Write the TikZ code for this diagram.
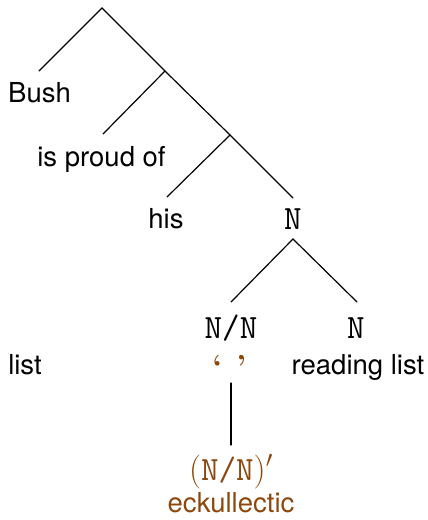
\RequirePackage{fix-cm}
\documentclass[tikz,border=0pt]{standalone}
\usepackage{fontspec}
\setsansfont{TeX Gyre Heros}
\definecolor{brn}{RGB}{140,72,12}
\tikzset{
  lbl/.style={font=\sffamily\fontsize{27.5}{32}\selectfont, inner sep=0pt, anchor=base},
  cat/.style={font=\ttfamily\fontsize{34}{40}\selectfont, inner sep=0pt, anchor=base},
  edge/.style={line width=1.2pt, line cap=round}
}
\begin{document}
\begin{tikzpicture}[x=1pt,y=-1pt]
\useasboundingbox (0,0) rectangle (428,520);
% junctions and line ends
\coordinate (r) at (102,8);
\coordinate (j1) at (165,71);
\coordinate (j2) at (230,135);
\coordinate (bushtop) at (39,71);
\coordinate (proudtop) at (103,134);
\coordinate (histop) at (167,197);
\coordinate (ntop) at (293,198);
\coordinate (nbot) at (293,239);
\coordinate (nntop) at (231,302);
\coordinate (n2top) at (357,302);
\coordinate (qbot) at (231,383);
\coordinate (ptop) at (231,445);
% texts
\node[lbl] (bush) at (39.5,102) {Bush};
\node[lbl] (proud) at (101.5,166) {is proud of};
\node[lbl] (his) at (166,228) {his};
\node[cat] (n) at (293,229) {N};
\node[cat] (nn) at (231,338) {N/N};
\node[cat] (n2) at (356,338) {N};
\node[lbl] (list) at (25,374) {list};
\node[inner sep=0pt, anchor=base, text=brn, font=\bfseries\rmfamily\fontsize{32}{40}\selectfont] (q) at (229.5,377) {‘\hspace{14pt}’};
\node[lbl] (rl) at (358,374) {reading list};
\node[font=\rmfamily\fontsize{34}{40}\selectfont, inner sep=0pt, anchor=base, text=brn] (nnp) at (231,480) {(\texttt{N/N})$'$};
\node[lbl,text=brn] (eck) at (231,512) {eckullectic};
% edges
\draw[edge] (bushtop) -- (r) -- (j1) -- (j2) -- (ntop);
\draw[edge] (j1) -- (proudtop);
\draw[edge] (j2) -- (histop);
\draw[edge] (nntop) -- (nbot) -- (n2top);
\draw[edge] (qbot) -- (ptop);
\end{tikzpicture}
\end{document}
